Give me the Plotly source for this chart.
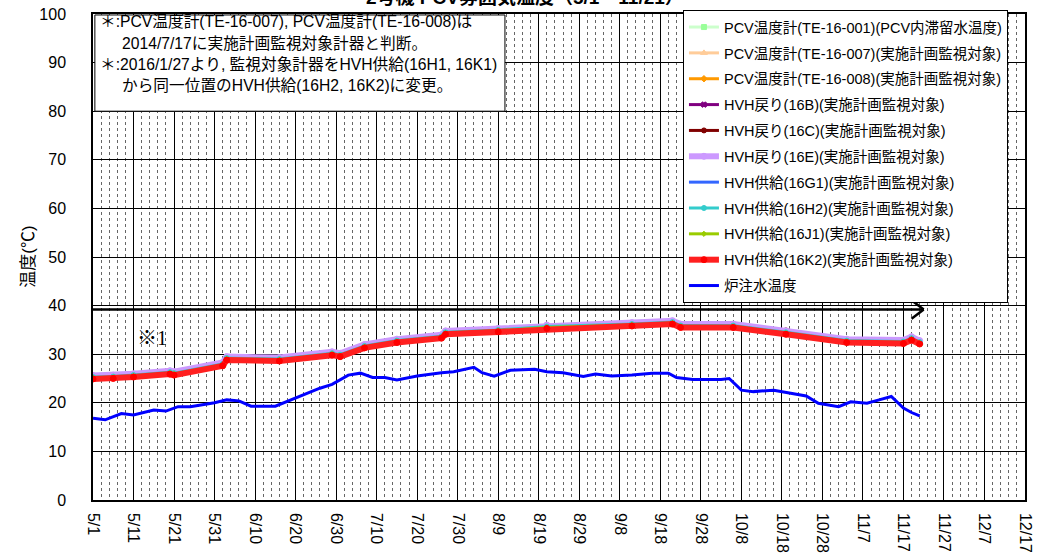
import plotly.graph_objects as go

# ---------------- data ----------------
BAND_DATES = ["2016-05-01", "2016-05-06", "2016-05-11", "2016-05-20", "2016-05-21",
              "2016-06-02", "2016-06-03", "2016-06-16", "2016-06-29", "2016-07-01",
              "2016-07-07", "2016-07-15", "2016-07-26", "2016-07-27", "2016-08-09",
              "2016-08-21", "2016-09-11", "2016-09-21", "2016-09-23", "2016-10-06",
              "2016-10-19", "2016-11-03", "2016-11-17", "2016-11-19", "2016-11-21"]

pcv_001 = [25.0, 25.1, 25.4, 26.0, 25.8, 27.7, 28.9, 28.7, 29.9, 29.6, 31.4, 32.5, 33.4,
           34.2, 34.7, 35.4, 35.9, 36.3, 35.6, 35.6, 34.2, 32.5, 32.3, 33.0, 32.2]
pcv_007 = [25.1, 25.2, 25.5, 26.1, 25.9, 27.8, 29.0, 28.8, 30.0, 29.7, 31.5, 32.6, 33.5,
           34.3, 34.8, 35.5, 36.0, 36.4, 35.7, 35.7, 34.3, 32.6, 32.4, 33.1, 32.3]
pcv_008 = [25.0, 25.2, 25.4, 26.0, 25.9, 27.7, 29.0, 28.7, 30.0, 29.6, 31.5, 32.5, 33.5,
           34.2, 34.8, 35.4, 36.0, 36.3, 35.7, 35.6, 34.3, 32.5, 32.4, 33.0, 32.3]
hvh_16b = [25.1, 25.2, 25.5, 26.1, 25.9, 27.8, 29.0, 28.8, 30.0, 29.7, 31.5, 32.6, 33.5,
           34.3, 34.8, 35.5, 36.0, 36.4, 35.7, 35.7, 34.4, 32.6, 32.4, 33.1, 32.3]
hvh_16c = [25.2, 25.3, 25.6, 26.2, 26.0, 27.9, 29.1, 28.9, 30.1, 29.8, 31.6, 32.7, 33.6,
           34.4, 34.9, 35.6, 36.1, 36.5, 35.8, 35.8, 34.9, 32.7, 32.5, 33.2, 32.4]
hvh_16e = [25.6, 25.7, 26.0, 26.6, 26.4, 28.3, 29.5, 29.3, 30.5, 30.2, 32.0, 33.1, 34.0,
           34.8, 35.3, 36.0, 36.5, 36.9, 36.2, 36.2, 34.8, 33.1, 32.9, 33.6, 32.8]
hvh_16g1 = [25.0, 25.1, 25.4, 26.0, 25.8, 27.7, 28.9, 28.7, 29.9, 29.6, 31.4, 32.5, 33.4,
            34.2, 34.7, 35.4, 35.9, 36.3, 35.6, 35.6, 34.2, 32.5, 32.3, 33.0, 32.2]
hvh_16h2 = [25.3, 25.4, 25.7, 26.3, 26.1, 28.0, 29.2, 29.0, 30.2, 29.9, 31.7, 32.8, 33.7,
            34.5, 35.0, 35.7, 36.2, 36.6, 35.9, 35.9, 34.5, 32.8, 32.6, 33.3, 32.5]
hvh_16j1 = [25.1, 25.2, 25.5, 26.1, 25.9, 27.8, 29.0, 28.8, 30.0, 29.7, 31.5, 32.6, 33.5,
            34.3, 34.8, 35.5, 36.0, 36.4, 35.7, 35.7, 34.3, 32.6, 32.4, 33.1, 32.3]
hvh_16k2 = [24.9, 25.0, 25.3, 25.9, 25.7, 27.6, 28.8, 28.6, 29.8, 29.5, 31.3, 32.4, 33.3,
            34.1, 34.6, 35.3, 35.8, 36.2, 35.5, 35.5, 34.1, 32.4, 32.2, 32.9, 32.1]

INJ_DATES = ["2016-05-01", "2016-05-04", "2016-05-08", "2016-05-11", "2016-05-16",
             "2016-05-19", "2016-05-22", "2016-05-25", "2016-05-31", "2016-06-03",
             "2016-06-06", "2016-06-09", "2016-06-15", "2016-06-19", "2016-06-24",
             "2016-06-26", "2016-06-29", "2016-07-03", "2016-07-06", "2016-07-09",
             "2016-07-12", "2016-07-15", "2016-07-20", "2016-07-23", "2016-07-26",
             "2016-07-29", "2016-08-03", "2016-08-05", "2016-08-08", "2016-08-12",
             "2016-08-18", "2016-08-21", "2016-08-25", "2016-08-30", "2016-09-02",
             "2016-09-06", "2016-09-11", "2016-09-16", "2016-09-20", "2016-09-22",
             "2016-09-26", "2016-10-03", "2016-10-05", "2016-10-08", "2016-10-11",
             "2016-10-16", "2016-10-18", "2016-10-23", "2016-10-24", "2016-10-27",
             "2016-11-01", "2016-11-04", "2016-11-08", "2016-11-11", "2016-11-14",
             "2016-11-17", "2016-11-19", "2016-11-21"]
inj_temp = [16.8, 16.5, 17.8, 17.5, 18.5, 18.3, 19.2, 19.2, 20.0, 20.6,
            20.4, 19.3, 19.3, 20.6, 22.3, 23.0, 23.8, 25.7, 26.1, 25.2,
            25.2, 24.7, 25.5, 25.9, 26.2, 26.4, 27.3, 26.2, 25.5, 26.7,
            26.9, 26.4, 26.2, 25.4, 25.9, 25.5, 25.7, 26.1, 26.1, 25.2,
            24.8, 24.8, 25.0, 22.6, 22.3, 22.6, 22.3, 21.4, 21.4, 19.9,
            19.2, 20.2, 19.9, 20.6, 21.3, 18.9, 18.0, 17.3]

TICK_DATES = ["2016-05-01", "2016-05-11", "2016-05-21", "2016-05-31", "2016-06-10",
              "2016-06-20", "2016-06-30", "2016-07-10", "2016-07-20", "2016-07-30",
              "2016-08-09", "2016-08-19", "2016-08-29", "2016-09-08", "2016-09-18",
              "2016-09-28", "2016-10-08", "2016-10-18", "2016-10-28", "2016-11-07",
              "2016-11-17", "2016-11-27", "2016-12-07", "2016-12-17"]
TICK_TEXT = ["5/1", "5/11", "5/21", "5/31", "6/10", "6/20", "6/30", "7/10", "7/20",
             "7/30", "8/9", "8/19", "8/29", "9/8", "9/18", "9/28", "10/8", "10/18",
             "10/28", "11/7", "11/17", "11/27", "12/7", "12/17"]

ARROW_START = "2016-05-01"
ARROW_END = "2016-11-22"
ARROW_HEAD_BACK = "2016-11-19"
ARROW_Y = 39.2

TITLE = "2号機 PCV雰囲気温度（5/1～11/21）"
NOTE_LINES = ["＊:PCV温度計(TE-16-007), PCV温度計(TE-16-008)は",
              "2014/7/17に実施計画監視対象計器と判断。",
              "＊:2016/1/27より, 監視対象計器をHVH供給(16H1, 16K1)",
              "から同一位置のHVH供給(16H2, 16K2)に変更。"]

FONT = "Liberation Sans, Arial, Noto Sans CJK JP, sans-serif"

series = [
    ("PCV温度計(TE-16-001)(PCV内滞留水温度)", pcv_001, "#CCFFCC", "#99FF99", "square", 3, 5),
    ("PCV温度計(TE-16-007)(実施計画監視対象)", pcv_007, "#FFCC99", "#FFCC99", "triangle-up", 3, 6),
    ("PCV温度計(TE-16-008)(実施計画監視対象)", pcv_008, "#FF9900", "#FF9900", "diamond", 3, 5),
    ("HVH戻り(16B)(実施計画監視対象)", hvh_16b, "#800080", "#800080", "x", 3, 5),
    ("HVH戻り(16C)(実施計画監視対象)", hvh_16c, "#800000", "#800000", "circle", 3, 5),
    ("HVH戻り(16E)(実施計画監視対象)", hvh_16e, "#CC99FF", "#CC99FF", "circle", 6, 6),
    ("HVH供給(16G1)(実施計画監視対象)", hvh_16g1, "#3366FF", "#3366FF", "line-ew", 3, 5),
    ("HVH供給(16H2)(実施計画監視対象)", hvh_16h2, "#33CCCC", "#33CCCC", "circle", 3, 5),
    ("HVH供給(16J1)(実施計画監視対象)", hvh_16j1, "#99CC00", "#99CC00", "diamond", 3, 4),
    ("HVH供給(16K2)(実施計画監視対象)", hvh_16k2, "#FF2020", "#FF0000", "circle", 6, 6),
]

fig = go.Figure()
for i, (name, vals, lc, mc, sym, lw, ms) in enumerate(series):
    fig.add_trace(go.Scatter(
        x=BAND_DATES, y=vals, name=name, mode="lines+markers",
        line=dict(color=lc, width=lw),
        marker=dict(color=mc, symbol=sym, size=ms, line=dict(width=1, color=mc)),
        legendgroup=f"g{i}",
    ))
fig.add_trace(go.Scatter(
    x=INJ_DATES, y=inj_temp, name="炉注水温度", mode="lines",
    line=dict(color="#0000FF", width=3), legendgroup="g_inj",
))

# arrow
fig.add_shape(type="line", xref="x", yref="y", x0=ARROW_START, x1=ARROW_END,
              y0=ARROW_Y, y1=ARROW_Y, line=dict(color="black", width=2.5))
fig.add_shape(type="line", xref="x", yref="y", x0=ARROW_HEAD_BACK, x1=ARROW_END,
              y0=ARROW_Y + 1.9, y1=ARROW_Y, line=dict(color="black", width=2.5))
fig.add_shape(type="line", xref="x", yref="y", x0=ARROW_HEAD_BACK, x1=ARROW_END,
              y0=ARROW_Y - 1.9, y1=ARROW_Y, line=dict(color="black", width=2.5))

# note box
fig.add_shape(type="rect", xref="paper", yref="paper", x0=0.002, x1=0.442,
              y0=0.80, y1=0.998, line=dict(color="black", width=1), fillcolor="white",
              layer="above")
note_pos = [(0.005, 0.984), (0.029, 0.940), (0.005, 0.896), (0.029, 0.852)]
for txt, (px, py) in zip(NOTE_LINES, note_pos):
    fig.add_annotation(text=txt, xref="paper", yref="paper", x=px, y=py,
                       xanchor="left", yanchor="middle", showarrow=False,
                       font=dict(size=15.7, color="black", family=FONT))

fig.add_annotation(text="※1", xref="paper", yref="paper", x=0.045, y=0.333,
                   xanchor="left", yanchor="middle", showarrow=False,
                   font=dict(size=20, color="black",
                             family="Liberation Serif, Noto Sans CJK JP, serif"))

fig.add_annotation(text="温度(℃)", xref="paper", yref="paper", x=-0.07, y=0.5,
                   xanchor="center", yanchor="middle", showarrow=False, textangle=-90,
                   font=dict(size=17, color="black", family=FONT))

# title (top part lies above the page edge, as in the reference)
fig.add_annotation(text=f"<b>{TITLE}</b>", xref="paper", yref="paper", x=0.463, y=1.034,
                   xanchor="center", yanchor="middle", showarrow=False,
                   font=dict(size=19, color="black", family=FONT))

fig.update_layout(
    width=1043, height=560,
    margin=dict(l=93, r=18, t=14, b=60, autoexpand=False),
    paper_bgcolor="white", plot_bgcolor="white",
    font=dict(family=FONT, color="black", size=15),
    showlegend=True,
    legend=dict(x=0.633, y=1.008, xanchor="left", yanchor="top",
                bgcolor="white", bordercolor="black", borderwidth=1,
                font=dict(size=14.5, family=FONT, color="black"),
                tracegroupgap=4, traceorder="grouped", maxheight=420),
    xaxis=dict(
        type="date", range=["2016-05-01", "2016-12-17"], automargin=False,
        tickmode="array", tickvals=TICK_DATES, ticktext=TICK_TEXT,
        tickangle=90, tickfont=dict(size=16, family=FONT, color="black"),
        showgrid=True, gridcolor="black", gridwidth=1,
        showline=True, linecolor="black", linewidth=1.5, mirror=True,
        ticks="", ticklabelstandoff=8, zeroline=False,
        minor=dict(tickmode="linear", tick0="2016-05-01", dtick=2 * 86400000,
                   showgrid=True, gridcolor="#666666", griddash="dot", gridwidth=1),
    ),
    yaxis=dict(
        range=[0, 100], tickmode="linear", tick0=0, dtick=10, automargin=False,
        tickfont=dict(size=16, family=FONT, color="black"),
        showgrid=True, gridcolor="black", gridwidth=1,
        showline=True, linecolor="black", linewidth=1.5, mirror=True,
        ticks="", ticklabelstandoff=22, zeroline=False,
    ),
)

fig.write_html("out.html", config={"displayModeBar": False},
               post_script="document.body.style.margin='0';document.body.style.overflow='hidden';")
